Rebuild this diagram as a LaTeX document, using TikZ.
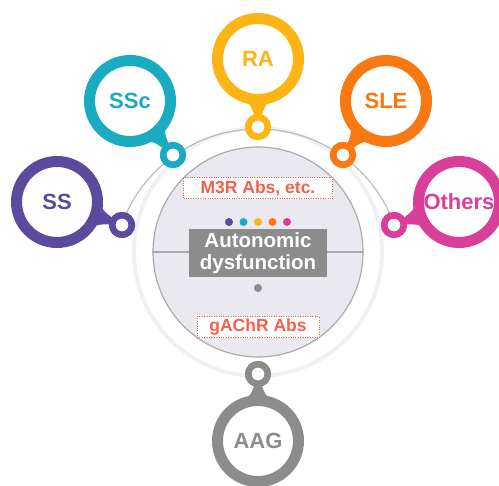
\documentclass[tikz,border=0pt]{standalone}
\usepackage{fontspec}
\setmainfont{Liberation Sans}
\usepackage{xcolor}
\usetikzlibrary{positioning,calc}
\definecolor{ssviolet}{HTML}{5C4A9F}
\definecolor{sscteal}{HTML}{19ABBF}
\definecolor{raamber}{HTML}{FDB515}
\definecolor{sleorange}{HTML}{FA7812}
\definecolor{othmagenta}{HTML}{D93E98}
\definecolor{aaggray}{HTML}{8C8C8C}
\definecolor{discfill}{HTML}{E9E9EF}
\definecolor{discline}{HTML}{ABABAB}
\definecolor{bandgray}{HTML}{F1F1F5}
\definecolor{absred}{HTML}{F4604C}
% tapered neck between a big ring and its small ring
\newcommand{\tail}[3]{%
  \fill[#3] ($(#1.center)!42pt!18:(#2.center)$)
    .. controls ($(#1.center)!48pt!8:(#2.center)$) .. ($(#2.center)!10pt!-17:(#1.center)$)
    -- ($(#2.center)!10pt!17:(#1.center)$)
    .. controls ($(#1.center)!48pt!-8:(#2.center)$) .. ($(#1.center)!42pt!-18:(#2.center)$) -- cycle;}

\begin{document}
\begin{tikzpicture}[
  x=1pt,y=-1pt,
  bigring/.style={circle,draw=#1,line width=11pt,fill=white,text=#1,
                  minimum size=81pt,inner sep=0pt,
                  font=\fontsize{22}{24}\selectfont\bfseries},
  smallring/.style={circle,draw=#1,line width=6.5pt,fill=white,
                    minimum size=19.5pt,inner sep=0pt},
  disc/.style={circle,draw=discline,line width=1.2pt,fill=discfill,
               minimum size=210pt,inner sep=0pt},
  centerbox/.style={fill=aaggray,text=white,align=center,inner sep=0pt,
                    minimum width=138pt,minimum height=48pt,
                    font=\fontsize{20.5}{23}\selectfont\bfseries},
  ablabel/.style={draw=absred,line width=1pt,dash pattern=on 1pt off 1.4pt,
                  fill=white,text=absred,inner sep=0pt,minimum height=21pt,
                  font=\fontsize{17.5}{20}\selectfont\bfseries},
  spot/.style={circle,fill=#1,minimum size=8pt,inner sep=0pt}
]
\useasboundingbox (0,0) rectangle (499,486);
\clip (0,0) rectangle (499,486);

% rings behind the disc
\draw[bandgray,line width=4pt] (258,252) circle (124);
\draw[discline!85,line width=1.1pt] (258,274) ++(-160.5:145) arc[start angle=-160.5,end angle=-19.5,radius=145];

% central disc
\node[disc] (core) at (258,252) {};
\draw[discline,line width=1.1pt] (core.west) -- (core.east);
\node[centerbox] (ad) at (258,253) {Autonomic\\[-1pt]dysfunction};
\node[ablabel,minimum width=149pt] (m3r) at (258,188.5) {M3R Abs, etc.};
\node[ablabel,minimum width=122pt] (gachr) at (258,327.5) {gAChR Abs};
\foreach \c [count=\i] in {ssviolet,sscteal,raamber,sleorange,othmagenta}
  \node[spot=\c] (dot\i) at (214.5+14.5*\i,222) {};
\node[spot=aaggray] (dotaag) at (258,288) {};

% diseases
\node[smallring=ssviolet] (sss) at (122,225) {};
\node[smallring=sscteal] (sscs) at (173,155) {};
\node[smallring=raamber] (ras) at (258,127) {};
\node[smallring=sleorange] (sles) at (343,155) {};
\node[smallring=othmagenta] (oths) at (394,225) {};
\node[smallring=aaggray] (aags) at (258,374) {};

\coordinate (ssc0) at (57,202);
\coordinate (sscc0) at (130,101);
\coordinate (rac0) at (258,59);
\coordinate (slec0) at (386,101);
\coordinate (othc0) at (459,202);
\coordinate (aagc0) at (258,441);
\node[bigring=ssviolet] (ss) at (ssc0) {SS};
\node[bigring=sscteal] (ssc) at (sscc0) {SSc};
\node[bigring=raamber] (ra) at (rac0) {RA};
\node[bigring=sleorange] (sle) at (slec0) {SLE};
\node[bigring=othmagenta] (oth) at (othc0) {Others};
\node[bigring=aaggray] (aag) at (aagc0) {AAG};

\tail{ss}{sss}{ssviolet}
\tail{ssc}{sscs}{sscteal}
\tail{ra}{ras}{raamber}
\tail{sle}{sles}{sleorange}
\tail{oth}{oths}{othmagenta}
\tail{aag}{aags}{aaggray}

% small rings again on top of the necks
\foreach \s/\c in {sss/ssviolet,sscs/sscteal,ras/raamber,sles/sleorange,oths/othmagenta,aags/aaggray}
  \draw[\c,line width=6.5pt,fill=white] (\s.center) circle (9.75);
\end{tikzpicture}
\end{document}
